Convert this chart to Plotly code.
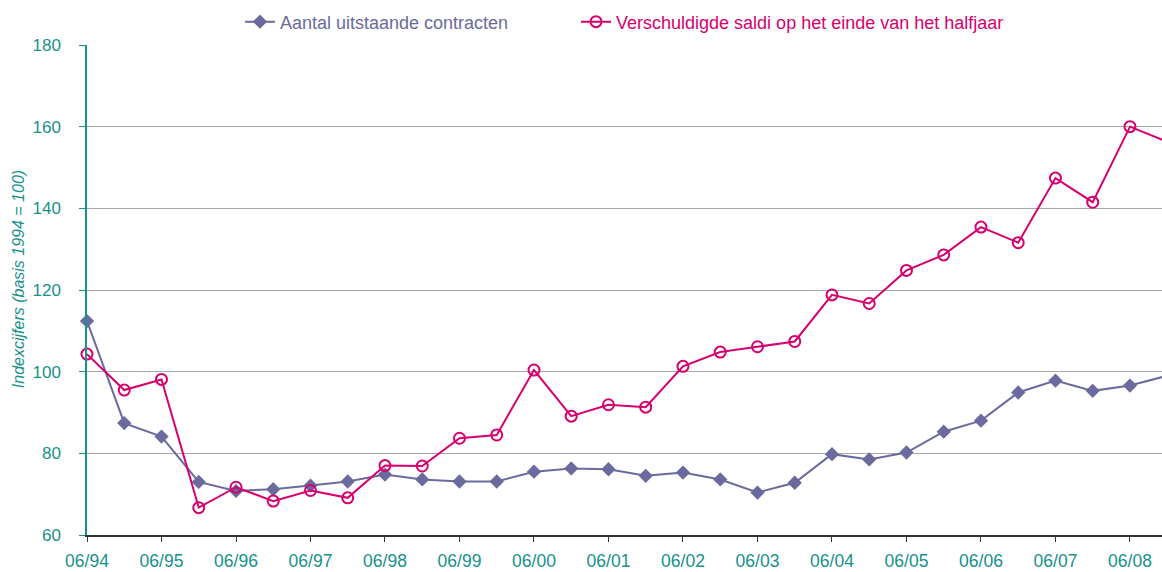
import plotly.graph_objects as go

periods = ["06/94", "12/94", "06/95", "12/95", "06/96", "12/96", "06/97", "12/97",
           "06/98", "12/98", "06/99", "12/99", "06/00", "12/00", "06/01", "12/01",
           "06/02", "12/02", "06/03", "12/03", "06/04", "12/04", "06/05", "12/05",
           "06/06", "12/06", "06/07", "12/07", "06/08", "12/08"]

contracten = [112.4, 87.4, 84.1, 73.0, 70.8, 71.2, 72.1, 73.1,
              74.8, 73.6, 73.1, 73.1, 75.5, 76.3, 76.1, 74.5,
              75.3, 73.6, 70.4, 72.8, 79.8, 78.5, 80.2, 85.3,
              88.0, 94.9, 97.8, 95.3, 96.6, 99.0]

saldi = [104.3, 95.5, 98.1, 66.7, 71.7, 68.3, 70.9, 69.1,
         77.0, 76.9, 83.7, 84.5, 100.4, 89.1, 91.9, 91.3,
         101.3, 104.8, 106.1, 107.4, 118.8, 116.7, 124.8, 128.6,
         135.4, 131.6, 147.4, 141.5, 160.0, 156.3]

tick_labels = [p for p in periods if p.startswith("06/")]
y_ticks = [60, 80, 100, 120, 140, 160, 180]

name_c = "Aantal uitstaande contracten"
name_s = "Verschuldigde saldi op het einde van het halfjaar"
y_title = "Indexcijfers (basis 1994 = 100)"

BLUE = "#6a6a9e"
RED = "#d6006e"
TEAL = "#17918a"
FONT = "Liberation Sans, Arial, sans-serif"

fig = go.Figure()
fig.add_trace(go.Scatter(
    x=periods, y=contracten, mode="lines+markers",
    name=f"<span style='color:{BLUE}'>{name_c}</span>",
    line=dict(color=BLUE, width=2),
    marker=dict(symbol="diamond", size=11, color=BLUE),
    cliponaxis=False, legend="legend",
))
fig.add_trace(go.Scatter(
    x=periods, y=saldi, mode="lines+markers",
    name=f"<span style='color:{RED}'>{name_s}</span>",
    line=dict(color=RED, width=2),
    marker=dict(symbol="circle-open", size=11, color=RED, line=dict(width=2)),
    cliponaxis=False, legend="legend2",
))

leg_common = dict(orientation="h", xanchor="left", y=1.047, yanchor="middle",
                  font=dict(family=FONT, size=18), bgcolor="rgba(0,0,0,0)")

fig.update_layout(
    width=1162, height=572,
    margin=dict(l=87, r=0, t=45, b=37, autoexpand=False),
    paper_bgcolor="white", plot_bgcolor="white",
    font=dict(family=FONT, size=17, color=TEAL),
    showlegend=True,
    legend=dict(x=0.1423, **leg_common),
    legend2=dict(x=0.4549, **leg_common),
    xaxis=dict(
        type="category", range=[0, 28.86],
        tickmode="array", tickvals=tick_labels, ticktext=tick_labels,
        showgrid=False, zeroline=False,
        showline=True, linecolor="#333333", linewidth=1.5,
        ticks="outside", ticklen=5, tickcolor="#333333",
        tickfont=dict(family=FONT, size=17.5, color=TEAL),
        ticklabelstandoff=4, automargin=False,
    ),
    yaxis=dict(
        range=[60, 180], tickmode="array", tickvals=y_ticks,
        showgrid=True, gridcolor="#a8a8a8", gridwidth=1, zeroline=False,
        showline=True, linecolor=TEAL, linewidth=1.5,
        ticks="outside", ticklen=6, tickcolor=TEAL,
        tickfont=dict(family=FONT, size=17, color=TEAL),
        ticklabelstandoff=15, automargin=False,
    ),
    annotations=[dict(
        text=f"<i>{y_title}</i>", xref="paper", yref="paper",
        x=-0.0642, y=0.522, xanchor="center", yanchor="middle",
        textangle=-90, showarrow=False,
        font=dict(family=FONT, size=16, color=TEAL),
    )],
)

fig.write_html(
    "out.html",
    config={"displayModeBar": False},
    post_script="document.body.style.margin='0';document.body.style.overflow='hidden';",
)
